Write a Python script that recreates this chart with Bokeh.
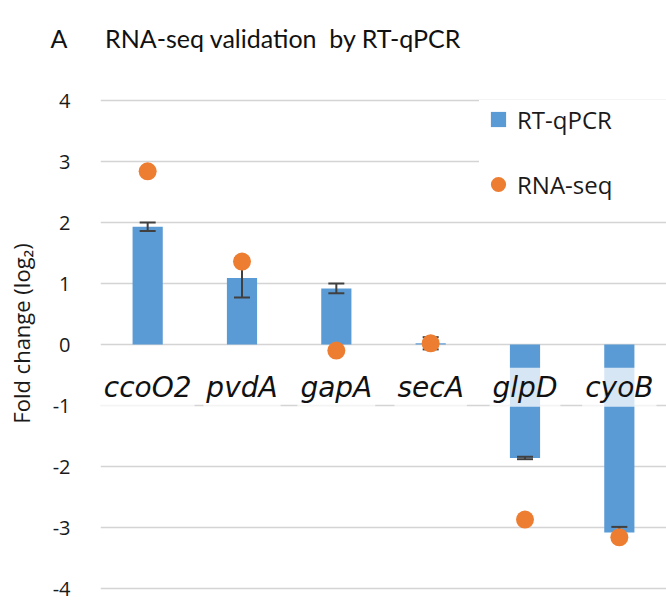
from bokeh.plotting import figure
from bokeh.models import (ColumnDataSource, FactorRange, Range1d, FixedTicker,
                          Legend, LegendItem, Title)
from bokeh.core.properties import value
from bokeh.embed import file_html
from bokeh.resources import INLINE

# ---- data ----
genes = ["ccoO2", "pvdA", "gapA", "secA", "glpD", "cyoB"]
rtqpcr = [1.93, 1.09, 0.92, 0.02, -1.86, -3.08]
rtqpcr_err = [0.07, 0.32, 0.08, 0.10, 0.02, 0.09]
rnaseq = [2.84, 1.36, -0.10, 0.02, -2.87, -3.16]
y_ticks = [-4, -3, -2, -1, 0, 1, 2, 3, 4]

BAR = "#5B9BD5"
DOT = "#ED7D31"
ERR = "#404040"
GRID = "#D4D4D4"
LABEL_Y = -0.70  # position of the category labels (Excel-like, under the zero line)

src = ColumnDataSource(dict(
    gene=genes,
    rt=rtqpcr,
    lo=[v - e for v, e in zip(rtqpcr, rtqpcr_err)],
    hi=[v + e for v, e in zip(rtqpcr, rtqpcr_err)],
    seq=rnaseq,
    ly=[LABEL_Y] * len(genes),
))

p = figure(width=666, height=601, output_backend="svg", toolbar_location=None,
           x_range=FactorRange(*genes, range_padding=0),
           y_range=Range1d(-4.213, 4.574),
           x_axis_location=None,
           min_border_left=100, min_border_right=0, min_border_top=65, min_border_bottom=0)
p.outline_line_color = None
p.xgrid.visible = False
p.ygrid.grid_line_color = GRID
p.ygrid.grid_line_width = 1.6

ax = p.yaxis[0]
ax.ticker = FixedTicker(ticks=y_ticks)
ax.major_label_overrides = {t: str(t) for t in y_ticks}
ax.axis_line_color = None
ax.major_tick_line_color = None
ax.minor_tick_line_color = None
ax.major_tick_in = 0
ax.major_tick_out = 0
ax.major_label_standoff = 30
ax.major_label_text_font = "Open Sans"
ax.major_label_text_font_size = "20px"
ax.major_label_text_color = "#1a1a1a"
ax.axis_label = "Fold change (log\u2082)"
ax.axis_label_text_font = "Open Sans"
ax.axis_label_text_font_size = "22px"
ax.axis_label_text_font_style = "normal"
ax.axis_label_text_color = "#1a1a1a"
ax.axis_label_standoff = 14

p.title = Title(text="A\u00a0\u00a0\u00a0\u00a0\u00a0\u00a0RNA-seq validation\u00a0\u00a0by RT-qPCR",
                align="left", offset=-50, text_font="Lato", text_font_size="25px",
                text_font_style="normal", text_color="#111111",
                vertical_align="bottom", standoff=26)

p.vbar(x="gene", top="rt", bottom=0, width=0.32, source=src,
       fill_color=BAR, line_color=None)
p.segment(x0="gene", y0="lo", x1="gene", y1="hi", source=src,
          line_color=ERR, line_width=2)
p.scatter(x="gene", y="hi", source=src, marker="dash", size=16,
          line_color=ERR, line_width=2)
p.scatter(x="gene", y="lo", source=src, marker="dash", size=16,
          line_color=ERR, line_width=2)

p.text(x="gene", y="ly", text="gene", source=src,
       text_font=value("DejaVu Sans"), text_font_style="italic", text_font_size="28px",
       text_align="center", text_baseline="middle", text_color="#111111",
       background_fill_color="white", background_fill_alpha=0.75, padding=3)

dots = p.scatter(x="gene", y="seq", source=src, marker="circle", size=18,
                 fill_color=DOT, line_color=None)

# square legend key for the bar series (not drawn itself)
sq = p.scatter(x="gene", y="rt", source=src, marker="square",
               fill_color=BAR, line_color=None, visible=False)

legend = Legend(items=[LegendItem(label="RT-qPCR", renderers=[sq]),
                       LegendItem(label="RNA-seq", renderers=[dots])],
                location=(379, 398), glyph_width=38, glyph_height=38,
                spacing=27, padding=8, margin=0, label_standoff=0, label_width=149,
                border_line_color=None, background_fill_color="white",
                background_fill_alpha=1.0,
                label_text_font="Open Sans", label_text_font_size="24px",
                label_text_color="#1a1a1a")
p.add_layout(legend)

open("out.html", "w").write(file_html(p, INLINE))
